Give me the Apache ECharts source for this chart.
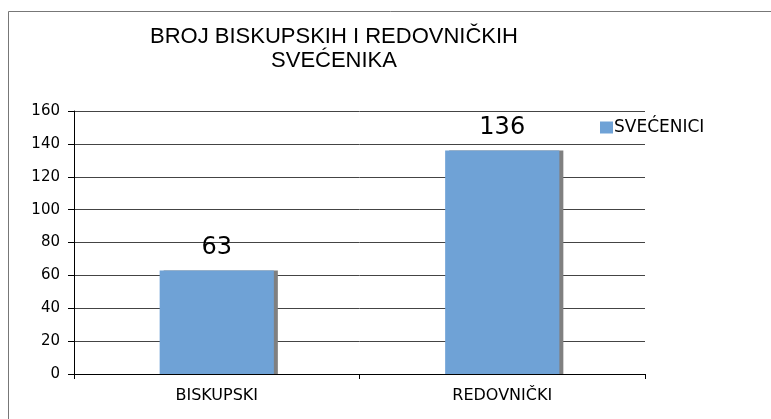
<!DOCTYPE html>
<html>
<head>
<meta charset="utf-8">
<script src="https://cdn.jsdelivr.net/npm/echarts@6/dist/echarts.min.js"></script>
<style>
  html, body { margin: 0; padding: 0; background: #fff; }
  #main { width: 771px; height: 419px; }
</style>
</head>
<body>
<div id="main"></div>
<script>
// podaci
let categories = ['BISKUPSKI', 'REDOVNIČKI'];
let svecenici = [63, 136];
let seriesName = 'SVEĆENICI';
let titleText = 'BROJ BISKUPSKIH I REDOVNIČKIH\nSVEĆENIKA';

let chart = echarts.init(document.getElementById('main'), null, { renderer: 'canvas' });

chart.setOption({
    backgroundColor: '#fff',
    animation: false,
    title: {
        text: titleText,
        left: 334,
        top: 25,
        padding: 0,
        textAlign: 'center',
        textStyle: {
            fontFamily: 'Liberation Sans',
            fontWeight: 'normal',
            fontSize: 22,
            lineHeight: 24,
            color: '#000'
        }
    },
    legend: {
        data: [seriesName],
        left: 600,
        top: 119,
        padding: 0,
        itemWidth: 13,
        itemHeight: 12,
        itemGap: 0,
        icon: 'rect',
        textStyle: {
            fontFamily: 'DejaVu Sans',
            fontSize: 17,
            color: '#000',
            padding: [0, 0, 0, -4]
        }
    },
    grid: {
        left: 74,
        top: 111,
        width: 571,
        height: 263
    },
    xAxis: {
        type: 'category',
        data: categories,
        axisLine: { lineStyle: { color: '#000', width: 1 } },
        axisTick: { show: true, length: 5, inside: false, lineStyle: { color: '#000' } },
        axisLabel: {
            fontFamily: 'DejaVu Sans',
            fontSize: 16,
            color: '#000',
            margin: 14
        }
    },
    yAxis: {
        type: 'value',
        min: 0,
        max: 160,
        interval: 20,
        axisLine: { show: true, lineStyle: { color: '#000', width: 1 } },
        axisTick: { show: true, length: 6, lineStyle: { color: '#000' } },
        axisLabel: {
            fontFamily: 'DejaVu Sans',
            fontSize: 15,
            color: '#000',
            margin: 14
        },
        splitLine: { show: true, lineStyle: { color: '#444', width: 1 } }
    },
    series: [{
        name: seriesName,
        type: 'bar',
        data: svecenici,
        barWidth: '40%',
        itemStyle: {
            color: '#6fa2d6',
            shadowColor: '#808080',
            shadowOffsetX: 4,
            shadowOffsetY: 0,
            shadowBlur: 0
        },
        label: {
            show: true,
            position: 'top',
            distance: 11,
            fontFamily: 'DejaVu Sans',
            fontSize: 24,
            color: '#000'
        }
    }],
    graphic: [{
        type: 'polyline',
        shape: { points: [[8.5, 430], [8.5, 11.5], [780, 11.5]] },
        style: { stroke: '#777', lineWidth: 1, fill: null },
        silent: true
    }]
});
</script>
</body>
</html>
